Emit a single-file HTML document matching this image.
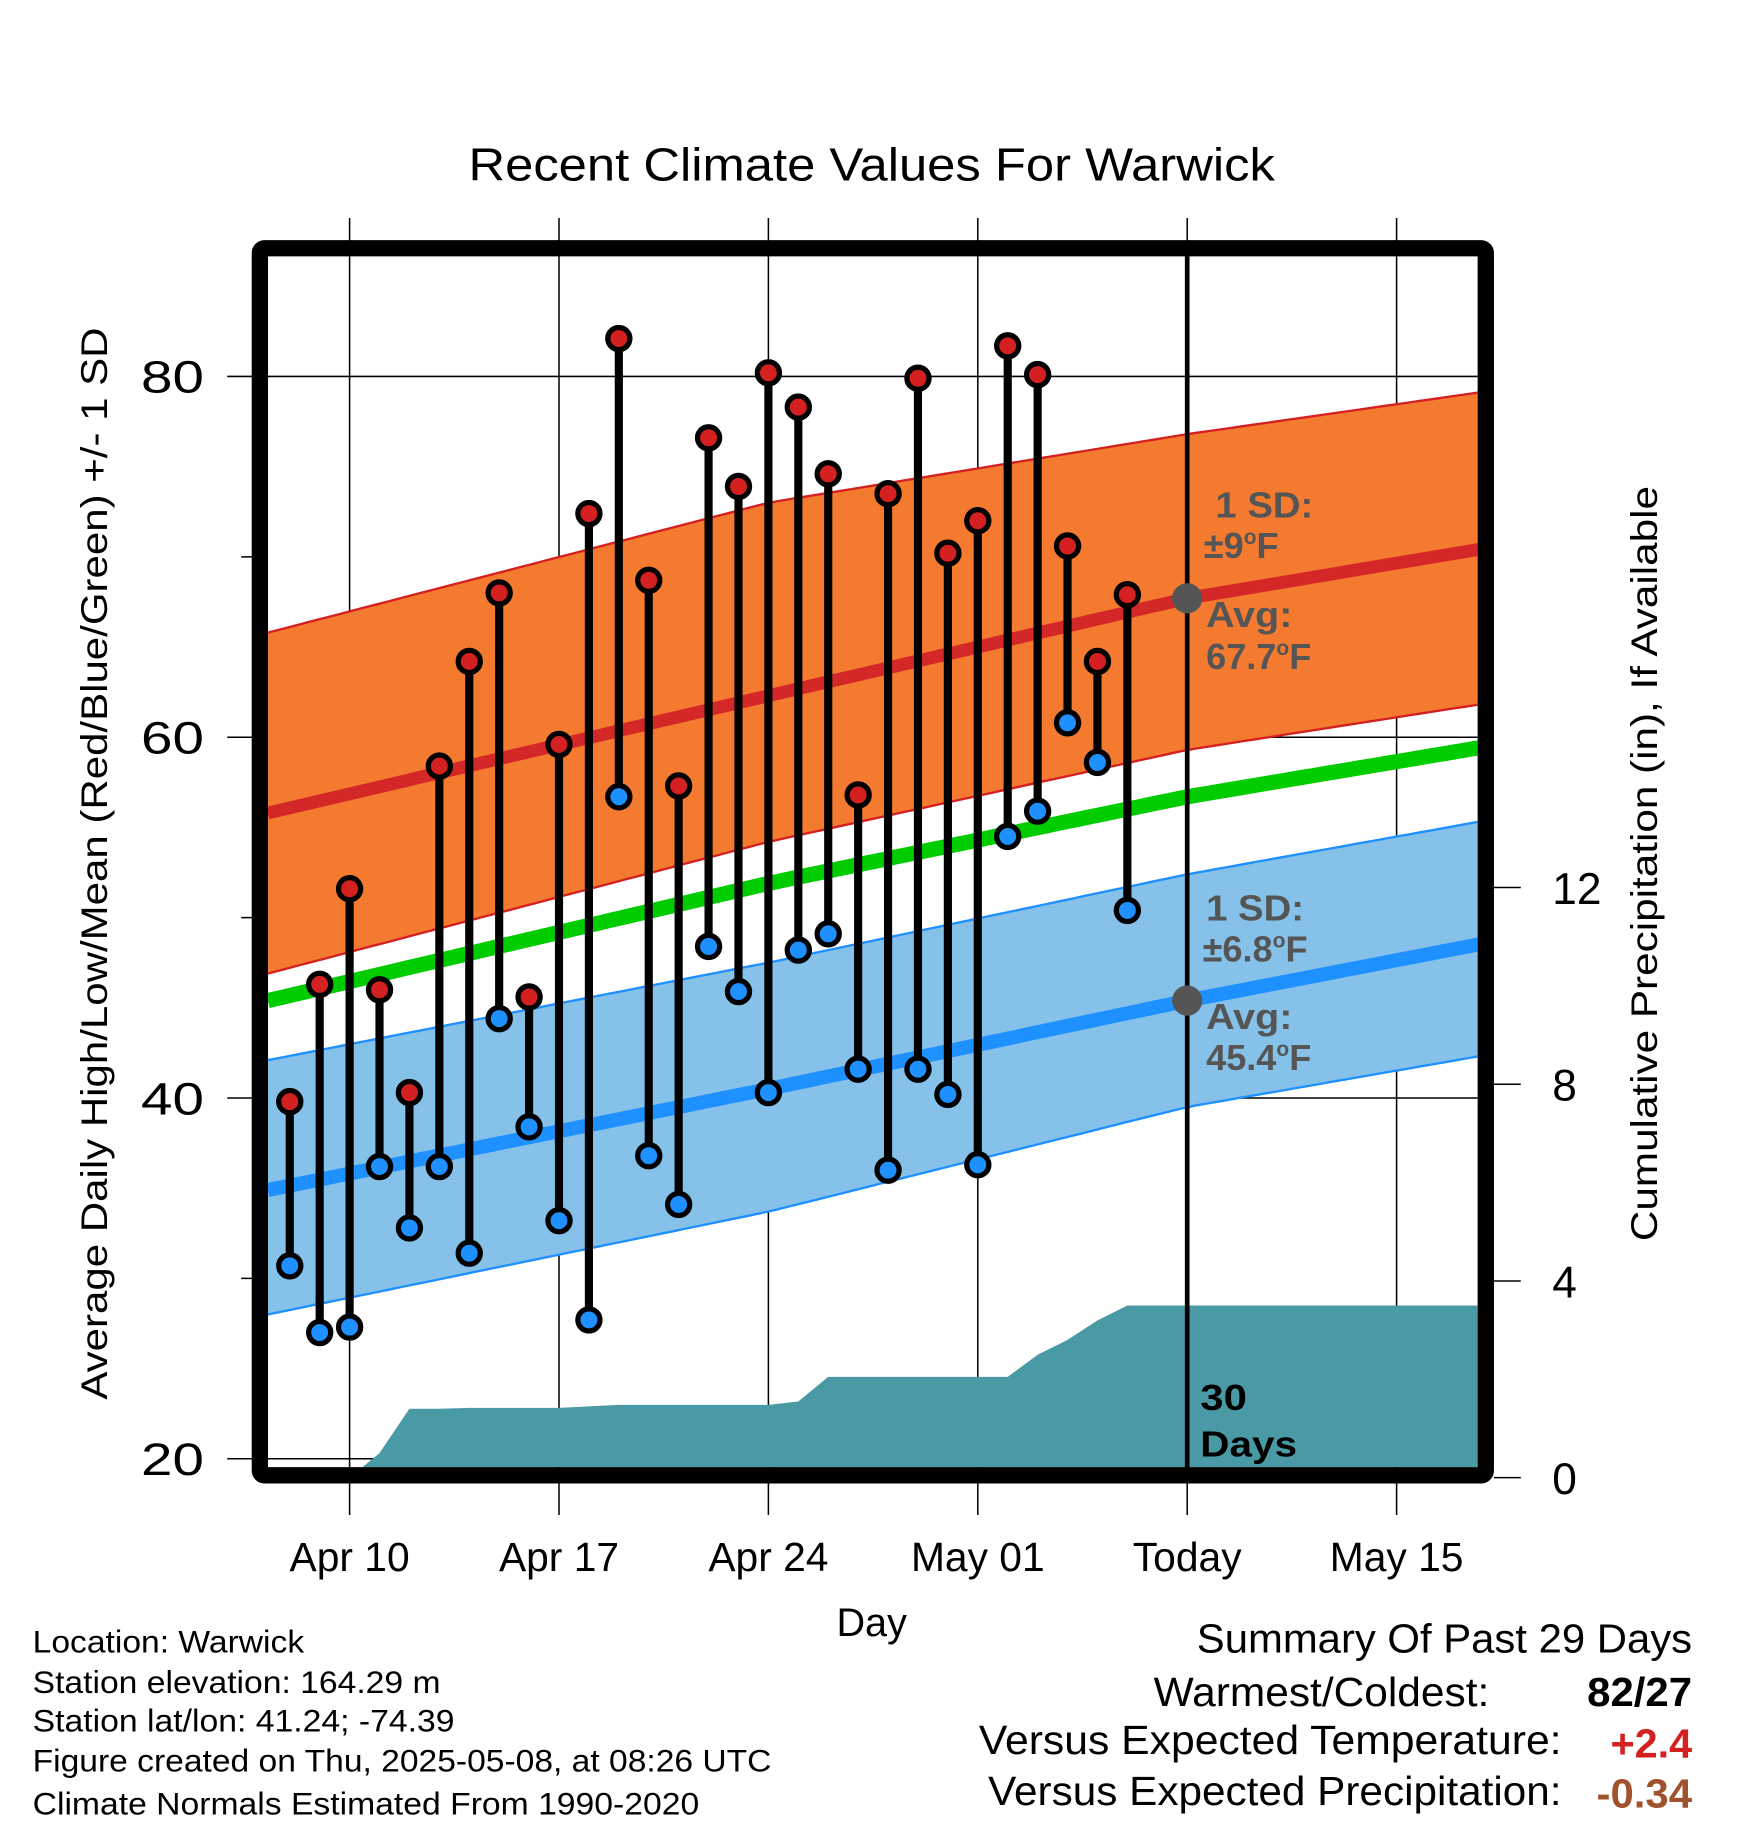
<!DOCTYPE html>
<html><head><meta charset="utf-8"><style>
html,body{margin:0;padding:0;background:#fff}
svg{display:block;font-family:"Liberation Sans",sans-serif}
</style></head><body>
<svg id="chart" width="1748" height="1828" viewBox="0 0 1500 1568.6" xmlns="http://www.w3.org/2000/svg">
<defs><clipPath id="plotclip"><rect x="230" y="220" width="1038" height="1039"/></clipPath></defs>
<g id="grid"></g>
<g id="bands" clip-path="url(#plotclip)"></g>
<g id="obs"></g>
<g id="axes"></g>
</svg>
<script>
const NS="http://www.w3.org/2000/svg";
// days relative to Apr 10
const dayOffsets=[-2,-1,0,1,2,3,4,5,6,7,8,9,10,11,12,13,14,15,16,17,18,19,20,21,22,23,24,25,26];
const highs=[39.8,46.3,51.6,46.0,40.3,58.4,64.2,68.0,45.6,59.6,72.4,82.1,68.7,57.3,76.6,73.9,80.2,78.3,74.6,56.8,73.5,79.9,70.2,72.0,81.7,80.1,70.6,64.2,67.9];
const lows=[30.7,27.0,27.3,36.2,32.8,36.2,31.4,44.4,38.4,33.2,27.7,56.7,36.8,34.1,48.4,45.9,40.3,48.2,49.1,41.6,36.0,41.6,40.2,36.3,54.5,55.9,60.8,58.6,50.4];
const precip=[0,0,0,0.5,1.4,1.4,1.42,1.42,1.42,1.42,1.45,1.48,1.48,1.48,1.48,1.48,1.48,1.55,2.05,2.05,2.05,2.05,2.05,2.05,2.05,2.5,2.8,3.2,3.5];
const normDays=[-2.73,14,28,37.7];
const highMean=[55.8,62.3,67.7,70.4];
const highUpper=[65.8,73.0,76.8,79.1];
const highLower=[46.9,54.2,59.3,61.8];
const meanTemp=[45.4,51.9,56.7,59.4];
const lowMean=[34.9,40.5,45.4,48.5];
const lowUpper=[42.1,47.5,52.4,55.3];
const lowLower=[28.0,33.7,39.5,42.3];
const xTickDays=[0,7,14,21,28,35];
const xTickLabels=["Apr 10","Apr 17","Apr 24","May 01","Today","May 15"];
const yTicks=[20,40,60,80];
const yMinor=[30,50,70];
const pTicks=[0,4,8,12];
const todayDay=28, precipEnd=37.7;

const x=d=>300+d*25.67;
const y=v=>323+(80-v)*15.48;
const yp=p=>1268-p*42.2;

function el(tag,attrs,parent,text){const e=document.createElementNS(NS,tag);for(const k in attrs)e.setAttribute(k,attrs[k]);if(text!==undefined)e.textContent=text;parent.appendChild(e);return e;}
const svg=document.getElementById('chart');
const grid=document.getElementById('grid'),bands=document.getElementById('bands'),obs=document.getElementById('obs'),axes=document.getElementById('axes');

function valAt(arr,d){let i=0;while(i<normDays.length-2&&d>normDays[i+1])i++;const t=(d-normDays[i])/(normDays[i+1]-normDays[i]);return arr[i]+t*(arr[i+1]-arr[i]);}
function interp(arr){const pts=[];const last=normDays[normDays.length-1];for(let d=normDays[0];d<last;d+=0.5){pts.push([x(d),y(valAt(arr,d))]);}pts.push([x(last+0.5),y(valAt(arr,last+0.5))]);return pts;}
const ps=p=>p.map(q=>q[0].toFixed(1)+","+q[1].toFixed(1)).join(" ");

function band(up,lo,fill,edge,name){
  const u=interp(up),l=interp(lo);
  let b=el('polygon',{points:ps(u)+" "+ps(l.slice().reverse()),fill:fill},bands);
  
  let e1=el('polyline',{points:ps(u),fill:'none',stroke:edge,'stroke-width':2},bands);
  
  let e2=el('polyline',{points:ps(l),fill:'none',stroke:edge,'stroke-width':2},bands);
  
}
band(highUpper,highLower,'#f47a30','#d42020','high-sd-band');
band(lowUpper,lowLower,'#85c1e8','#1e90ff','low-sd-band');
function line(arr,color,w,name){let l=el('polyline',{points:ps(interp(arr)),fill:'none',stroke:color,'stroke-width':w},bands);}
line(highMean,'#d42828',11,'high-mean-line');
line(meanTemp,'#00cc00',13,'mean-temp-line');
line(lowMean,'#1e90ff',12,'low-mean-line');
{let pts=[[x(dayOffsets[0]),yp(0)]];dayOffsets.forEach((d,i)=>pts.push([x(d),yp(precip[i])]));pts.push([x(precipEnd+0.5),yp(precip[precip.length-1])]);pts.push([x(precipEnd+0.5),yp(0)]);
let a=el('polygon',{points:ps(pts),fill:'#4a9aa5'},bands);}

xTickDays.forEach(d=>{let g=el('line',{x1:x(d),x2:x(d),y1:187,y2:1300,stroke:'#000','stroke-width':1.3},grid);});
yTicks.forEach(v=>{let g=el('line',{x1:195,x2:1268,y1:y(v),y2:y(v),stroke:'#000','stroke-width':1.3},grid);});
yMinor.forEach(v=>{let g=el('line',{x1:207,x2:222,y1:y(v),y2:y(v),stroke:'#000','stroke-width':1.3},grid);});

{let t=el('line',{x1:x(todayDay),x2:x(todayDay),y1:220,y2:1260,stroke:'#000','stroke-width':4},obs);}

dayOffsets.forEach((d,i)=>{
  let s=el('line',{x1:x(d),x2:x(d),y1:y(highs[i]),y2:y(lows[i]),stroke:'#000','stroke-width':7},obs);
  
});
dayOffsets.forEach((d,i)=>{
  let h=el('circle',{cx:x(d),cy:y(highs[i]),r:9.5,fill:'#d42020',stroke:'#000','stroke-width':4.5},obs);
  
  let l=el('circle',{cx:x(d),cy:y(lows[i]),r:9.5,fill:'#1e90ff',stroke:'#000','stroke-width':4.5},obs);
  
});
{let a=el('circle',{cx:x(todayDay),cy:y(highMean[2]),r:13,fill:'#555'},obs);
let b=el('circle',{cx:x(todayDay),cy:y(lowMean[2]),r:13,fill:'#555'},obs);}

{let f=el('rect',{x:223,y:213,width:1052,height:1053,fill:'none',stroke:'#000','stroke-width':14,rx:4},axes);}

yTicks.forEach(v=>{let t=el('text',{x:175,y:y(v)+14,'font-size':39,'text-anchor':'end',textLength:54,lengthAdjust:'spacingAndGlyphs'},axes,String(v));});
xTickDays.forEach((d,i)=>{let t=el('text',{x:x(d),y:1348,'font-size':35,'text-anchor':'middle'},axes,xTickLabels[i]);});
pTicks.forEach(p=>{let k=el('line',{x1:1282,x2:1305,y1:yp(p),y2:yp(p),stroke:'#000','stroke-width':1.3},axes);
let t=el('text',{x:1332,y:yp(p)+14,'font-size':38},axes,String(p));});
</script>
<script>
(function(){
const axes=document.getElementById('axes');
axes.insertAdjacentHTML('beforeend',`
<text x="748" y="155" font-size="40" text-anchor="middle" textLength="692" lengthAdjust="spacingAndGlyphs">Recent Climate Values For Warwick</text>
<text transform="translate(92,741) rotate(-90)" font-size="32" text-anchor="middle" textLength="920" lengthAdjust="spacingAndGlyphs">Average Daily High/Low/Mean (Red/Blue/Green) +/- 1 SD</text>
<text transform="translate(1422,741) rotate(-90)" font-size="32" text-anchor="middle" textLength="648" lengthAdjust="spacingAndGlyphs">Cumulative Precipitation (in), If Available</text>
<text x="748" y="1404" font-size="34" text-anchor="middle">Day</text>
<g fill="#555" font-weight="bold" font-size="31">
<text x="1043" y="444" textLength="84" lengthAdjust="spacingAndGlyphs">1 SD:</text>
<text x="1033" y="479">±9<tspan font-size="18" dy="-12">o</tspan><tspan dy="12">F</tspan></text>
<text x="1035" y="538" textLength="74" lengthAdjust="spacingAndGlyphs">Avg:</text>
<text x="1035" y="574">67.7<tspan font-size="18" dy="-12">o</tspan><tspan dy="12">F</tspan></text>
</g>
<g fill="#555" font-weight="bold" font-size="31">
<text x="1035" y="790" textLength="84" lengthAdjust="spacingAndGlyphs">1 SD:</text>
<text x="1032" y="825">±6.8<tspan font-size="18" dy="-12">o</tspan><tspan dy="12">F</tspan></text>
<text x="1035" y="883" textLength="74" lengthAdjust="spacingAndGlyphs">Avg:</text>
<text x="1035" y="918">45.4<tspan font-size="18" dy="-12">o</tspan><tspan dy="12">F</tspan></text>
</g>
<text x="1030" y="1210" font-weight="bold" font-size="31" textLength="40" lengthAdjust="spacingAndGlyphs">30</text>
<text x="1030" y="1250" font-weight="bold" font-size="31" textLength="83" lengthAdjust="spacingAndGlyphs">Days</text>
<g font-size="27">
<text x="28" y="1418" textLength="233" lengthAdjust="spacingAndGlyphs">Location: Warwick</text>
<text x="28" y="1453" textLength="350" lengthAdjust="spacingAndGlyphs">Station elevation: 164.29 m</text>
<text x="28" y="1486" textLength="362" lengthAdjust="spacingAndGlyphs">Station lat/lon: 41.24; -74.39</text>
<text x="28" y="1520" textLength="634" lengthAdjust="spacingAndGlyphs">Figure created on Thu, 2025-05-08, at 08:26 UTC</text>
<text x="28" y="1557" textLength="572" lengthAdjust="spacingAndGlyphs">Climate Normals Estimated From 1990-2020</text>
</g>
<g font-size="35">
<text x="1452" y="1418" text-anchor="end" textLength="425" lengthAdjust="spacingAndGlyphs">Summary Of Past 29 Days</text>
<text x="1278" y="1464" text-anchor="end" textLength="288" lengthAdjust="spacingAndGlyphs">Warmest/Coldest:</text>
<text x="1452" y="1464" text-anchor="end" font-weight="bold" textLength="90" lengthAdjust="spacingAndGlyphs">82/27</text>
<text x="1340" y="1505" text-anchor="end" textLength="500" lengthAdjust="spacingAndGlyphs">Versus Expected Temperature:</text>
<text x="1452" y="1508" text-anchor="end" font-weight="bold" fill="#d42020" textLength="70" lengthAdjust="spacingAndGlyphs">+2.4</text>
<text x="1340" y="1549" text-anchor="end" textLength="492" lengthAdjust="spacingAndGlyphs">Versus Expected Precipitation:</text>
<text x="1452" y="1551" text-anchor="end" font-weight="bold" fill="#a0522d" textLength="82" lengthAdjust="spacingAndGlyphs">-0.34</text>
</g>`);
})();
</script>
</body></html>
